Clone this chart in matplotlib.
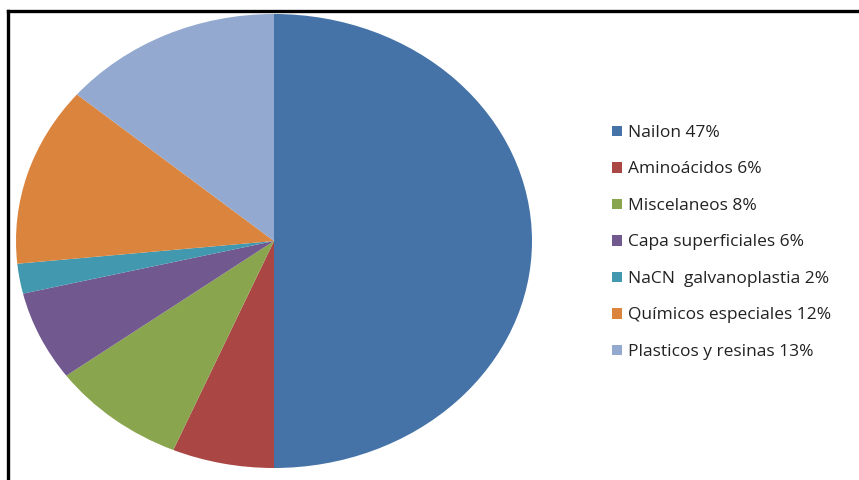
import matplotlib
matplotlib.use("Agg")
import matplotlib.pyplot as plt
from matplotlib.lines import Line2D

labels = ["Nailon 47%", "Aminoácidos 6%", "Miscelaneos 8%", "Capa superficiales 6%",
          "NaCN  galvanoplastia 2%", "Químicos especiales 12%", "Plasticos y resinas 13%"]
values = [47, 6, 8, 6, 2, 12, 13]
colors = ["#4572A7", "#AA4643", "#89A54E", "#71588F", "#4198AF", "#DB843D", "#93A9CF"]

W, H = 859, 480
fig = plt.figure(figsize=(W / 100, H / 100), dpi=100)
fig.patch.set_facecolor("white")
ax = fig.add_axes([0, 0, 1, 1])

cx, cy = 274, 241   # pie centre in pixels (from top)
rx, ry = 258, 227   # radii in pixels
wedges, _ = ax.pie(values, colors=colors, startangle=90, counterclock=False,
                   center=(0, 0), radius=1, wedgeprops=dict(linewidth=0))
ax.set_aspect("auto")
ax.set_xlim(-cx / rx, (W - cx) / rx)
ax.set_ylim(-(H - cy) / ry, cy / ry)
ax.axis("off")

leg = ax.legend(wedges, labels, loc="upper left",
                bbox_to_anchor=(612 / W, 1 - 125 / H), bbox_transform=fig.transFigure,
                frameon=False, prop=dict(family="Open Sans", size=12.5),
                handlelength=0.55, handleheight=0.55, handletextpad=0.35,
                labelspacing=1.18, borderpad=0, borderaxespad=0)
for t in leg.get_texts():
    t.set_color("#222222")

# frame lines (top and left)
fig.add_artist(Line2D([8 / W, 1], [1 - 11 / H, 1 - 11 / H], transform=fig.transFigure,
                      color="black", linewidth=2.4))
fig.add_artist(Line2D([8 / W, 8 / W], [0, 1 - 11 / H], transform=fig.transFigure,
                      color="black", linewidth=2.4))

fig.savefig("out.png", dpi=100, facecolor="white")
